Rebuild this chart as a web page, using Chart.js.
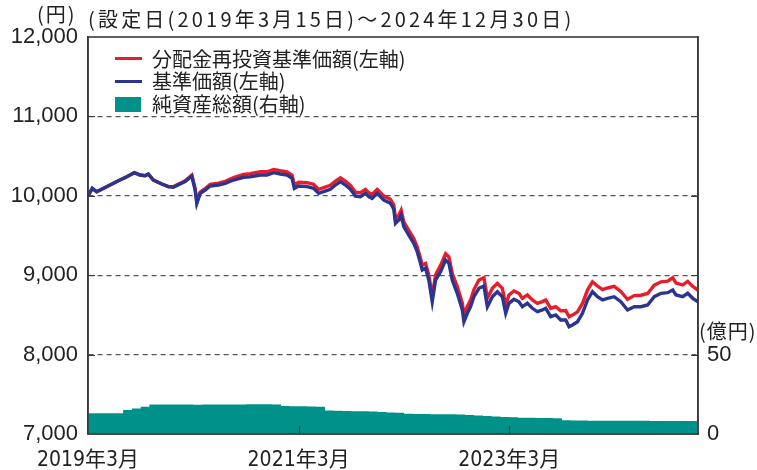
<!DOCTYPE html>
<html><head><meta charset="utf-8">
<script src="https://cdn.jsdelivr.net/npm/chart.js@4.4.0/dist/chart.umd.min.js"></script>
<style>
html,body{margin:0;padding:0;background:#fff;}
#wrap{position:relative;width:757px;height:470px;overflow:hidden;}
canvas{position:absolute;left:0;top:0;}
.t{position:absolute;font-family:"Noto Sans CJK JP",sans-serif;color:#222;white-space:nowrap;line-height:22px;height:22px;}
.sw{position:absolute;}
</style></head><body>
<div id="wrap">
<canvas id="c" width="757" height="470"></canvas>
<div class="t" style="left:37px;top:3px;font-size:20px;letter-spacing:2px;">(円)</div>
<div class="t" id="title" style="left:88px;top:8px;font-size:20px;letter-spacing:3.2px;">(設定日(2019年3月15日)〜2024年12月30日)</div>
<div class="t" style="left:699px;top:320px;font-size:20px;letter-spacing:1px;">(億円)</div>
<div class="sw" style="left:115px;top:57px;width:27px;height:3px;background:#e61e2b;"></div>
<div class="t" style="left:152px;top:48px;font-size:20px;">分配金再投資基準価額(左軸)</div>
<div class="sw" style="left:115px;top:80px;width:27px;height:3px;background:#2b3590;"></div>
<div class="t" style="left:152px;top:70px;font-size:20px;">基準価額(左軸)</div>
<div class="sw" style="left:115px;top:97px;width:26px;height:15px;background:#00918a;"></div>
<div class="t" style="left:152px;top:93px;font-size:20px;">純資産総額(右軸)</div>
</div>
<script>
// x = months elapsed since 2019-03-15 (設定日)
const months = [0,0.49,0.99,1.56,2.51,3.46,4.42,5.28,5.93,6.5,
6.88,7.45,8.41,9.16,9.73,10.5,11.07,11.83,12.21,12.4,
12.78,13.35,13.92,14.87,15.63,16.58,17.72,18.49,19.63,20.39,
21.15,21.91,22.68,23.25,23.51,24,24.96,25.71,26.28,26.85,
27.62,28.19,28.76,29.33,29.9,30.47,31.04,31.61,31.99,32.37,
32.95,33.7,34.46,34.84,35.03,35.41,35.68,35.98,36.55,37.12,
37.51,37.89,38.08,38.46,38.83,39.22,39.6,40.17,40.74,41.12,
41.5,42.07,42.65,42.83,43.22,43.59,43.97,44.54,45.11,45.5,
46.07,46.64,47.21,47.59,47.96,48.53,49.1,49.49,50.06,50.63,
51.2,51.77,52.15,52.72,53.29,53.86,54.43,54.81,55.2,55.77,
56.34,56.91,57.48,58.05,58.62,59.19,59.95,60.71,61.47,62.24,
63,63.76,64.52,65.29,66.05,66.62,67,67.76,68.33,68.9,
69.5];
// 基準価額 (円)
const nav = [10000,10094,10051,10082,10136,10190,10240,10291,10262,10253,
10274,10199,10149,10115,10107,10149,10178,10249,10073,9905,
10031,10073,10123,10136,10157,10199,10233,10240,10262,10262,
10291,10275,10262,10220,10094,10123,10115,10094,10031,10052,
10082,10136,10178,10136,10082,9997,9989,10031,9989,9968,
10031,9947,9906,9830,9654,9695,9758,9611,9506,9402,
9296,9150,9065,9087,8939,8666,8939,9044,9191,9150,
8939,8772,8562,8414,8520,8603,8729,8835,8864,8603,
8729,8792,8729,8520,8646,8696,8666,8603,8646,8583,
8540,8562,8583,8477,8499,8436,8436,8351,8373,8414,
8520,8688,8792,8729,8688,8709,8729,8666,8562,8603,
8603,8625,8729,8772,8780,8813,8751,8729,8772,8709,
8666];
// 分配金再投資基準価額 (円)
const navReinvested = [10000,10094,10051,10082,10136,10190,10240,10291,10262,10253,
10274,10199,10149,10115,10117,10159,10190,10262,10088,9920,
10046,10090,10143,10158,10182,10229,10270,10280,10302,10302,
10331,10315,10302,10260,10134,10170,10165,10144,10081,10102,
10132,10186,10228,10186,10132,10047,10039,10081,10039,10018,
10081,9997,9956,9885,9714,9755,9818,9671,9566,9462,
9356,9210,9125,9147,9004,8731,9004,9124,9271,9230,
9024,8857,8647,8499,8605,8688,8819,8940,8969,8708,
8834,8897,8834,8625,8751,8801,8771,8708,8751,8688,
8645,8667,8688,8582,8604,8551,8556,8476,8498,8539,
8645,8813,8917,8864,8818,8839,8859,8796,8697,8743,
8748,8770,8874,8917,8925,8968,8901,8879,8922,8859,
8811];
// 純資産総額 (億円), monthly
const assetMonths = [0,1,2,3,4,5,6,7,8,9,10,11,12,13,14,15,16,17,18,19,20,21,22,23,24,25,26,27,28,29,30,31,32,33,34,35,36,37,38,39,40,41,42,43,44,45,46,47,48,49,50,51,52,53,54,55,56,57,58,59,60,61,62,63,64,65,66,67,68,69,69.5];
const netAssets = [13.0,13.0,13.0,13.0,15.1,16.0,17.2,18.6,18.6,18.5,
18.5,18.6,18.4,18.5,18.5,18.5,18.6,18.6,18.7,18.7,
18.7,18.5,17.6,17.5,17.4,17.3,17.2,14.8,14.6,14.5,
14.4,14.3,14.1,13.8,13.6,13.4,12.7,12.6,12.6,12.5,
12.5,12.4,12.3,12.0,11.6,11.4,11.0,10.7,10.5,10.3,
10.2,10.1,10.0,9.9,8.6,8.5,8.5,8.4,8.4,8.4,
8.3,8.3,8.3,8.3,8.2,8.2,8.2,8.2,8.2,8.2,8.2];
const xTickValues = [0,24,48];
const xTickLabels = ['2019年3月','2021年3月','2023年3月'];
const leftTicks = [7000,8000,9000,10000,11000,12000];
const rightTicks = [0,50];

const RED='#e61e2b', BLUE='#2b3590', TEAL='#00918a';
const pts = (xs, ys) => xs.map((x,i)=>({x:x, y:ys[i]}));

const framePlugin = {
  id:'frame',
  afterDatasetsDraw(chart){
    const {ctx, chartArea:a, scales} = chart;
    ctx.save();
    ctx.strokeStyle='#3a3a3a';
    ctx.lineWidth=1.2;
    ctx.beginPath();
    scales.x.ticks.forEach(t=>{
      const px=Math.round(scales.x.getPixelForValue(t.value))+0.5;
      if(px>a.left+2){ctx.moveTo(px,a.bottom);ctx.lineTo(px,a.bottom-8);}
    });
    scales.y.ticks.forEach(t=>{
      const py=Math.round(scales.y.getPixelForValue(t.value))+0.5;
      if(py>a.top+2 && py<a.bottom-2){
        ctx.moveTo(a.left,py);ctx.lineTo(a.left+7,py);
        ctx.moveTo(a.right,py);ctx.lineTo(a.right-7,py);
      }
    });
    ctx.stroke();
    ctx.lineWidth=1.6;
    ctx.strokeRect(a.left,a.top,a.right-a.left,a.bottom-a.top);
    ctx.restore();
  }
};

const tickFont = {family:'"Liberation Sans","Noto Sans CJK JP",sans-serif', size:22};
const xFont = {family:'"Liberation Sans Narrow","DejaVu Sans Condensed","Liberation Sans","Noto Sans CJK JP",sans-serif', size:21};

new Chart(document.getElementById('c'), {
  type:'line',
  data:{
    datasets:[
      {label:'分配金再投資基準価額(左軸)', data:pts(months,navReinvested), borderColor:RED, borderWidth:3.4, pointRadius:0, yAxisID:'y', order:1, fill:false},
      {label:'基準価額(左軸)', data:pts(months,nav), borderColor:BLUE, borderWidth:3.4, pointRadius:0, yAxisID:'y', order:0, fill:false},
      {label:'純資産総額(右軸)', data:pts(assetMonths,netAssets), borderColor:TEAL, borderWidth:0, backgroundColor:TEAL, pointRadius:0, yAxisID:'y2', order:2, fill:'origin', stepped:'before'}
    ]
  },
  options:{
    responsive:false, animation:false, devicePixelRatio:1,
    layout:{padding:{top:37,left:0,right:0,bottom:0}},
    plugins:{legend:{display:false}, tooltip:{enabled:false}},
    scales:{
      x:{type:'linear', min:0, max:69.5,
        afterBuildTicks:s=>{s.ticks=xTickValues.map(v=>({value:v}));},
        afterFit:s=>{s.height=36;},
        ticks:{font:xFont, color:'#222', padding:6, maxRotation:0, autoSkip:false,
          callback:v=>xTickLabels[xTickValues.indexOf(v)]},
        grid:{display:false},
        border:{display:true,color:'#3a3a3a',width:1.6}
      },
      y:{type:'linear', position:'left', min:7000, max:12000,
        afterBuildTicks:s=>{s.ticks=leftTicks.map(v=>({value:v}));},
        afterFit:s=>{s.width=88;},
        ticks:{font:tickFont, color:'#222', padding:10,
          callback:v=>v.toLocaleString('en-US')},
        grid:{drawTicks:false, lineWidth:1.2,
          color:c=>(c.tick && (c.tick.value===7000||c.tick.value===12000))?'rgba(0,0,0,0)':'#555'},
        border:{display:true,color:'#3a3a3a',width:1.6,dash:[5,4]}
      },
      y2:{type:'linear', position:'right', min:0, max:250,
        afterBuildTicks:s=>{s.ticks=rightTicks.map(v=>({value:v}));},
        afterFit:s=>{s.width=59;},
        ticks:{font:tickFont, color:'#222', padding:9},
        grid:{display:false, drawTicks:false},
        border:{display:true,color:'#3a3a3a',width:1.6}
      }
    }
  },
  plugins:[framePlugin]
});
</script>
</body></html>
